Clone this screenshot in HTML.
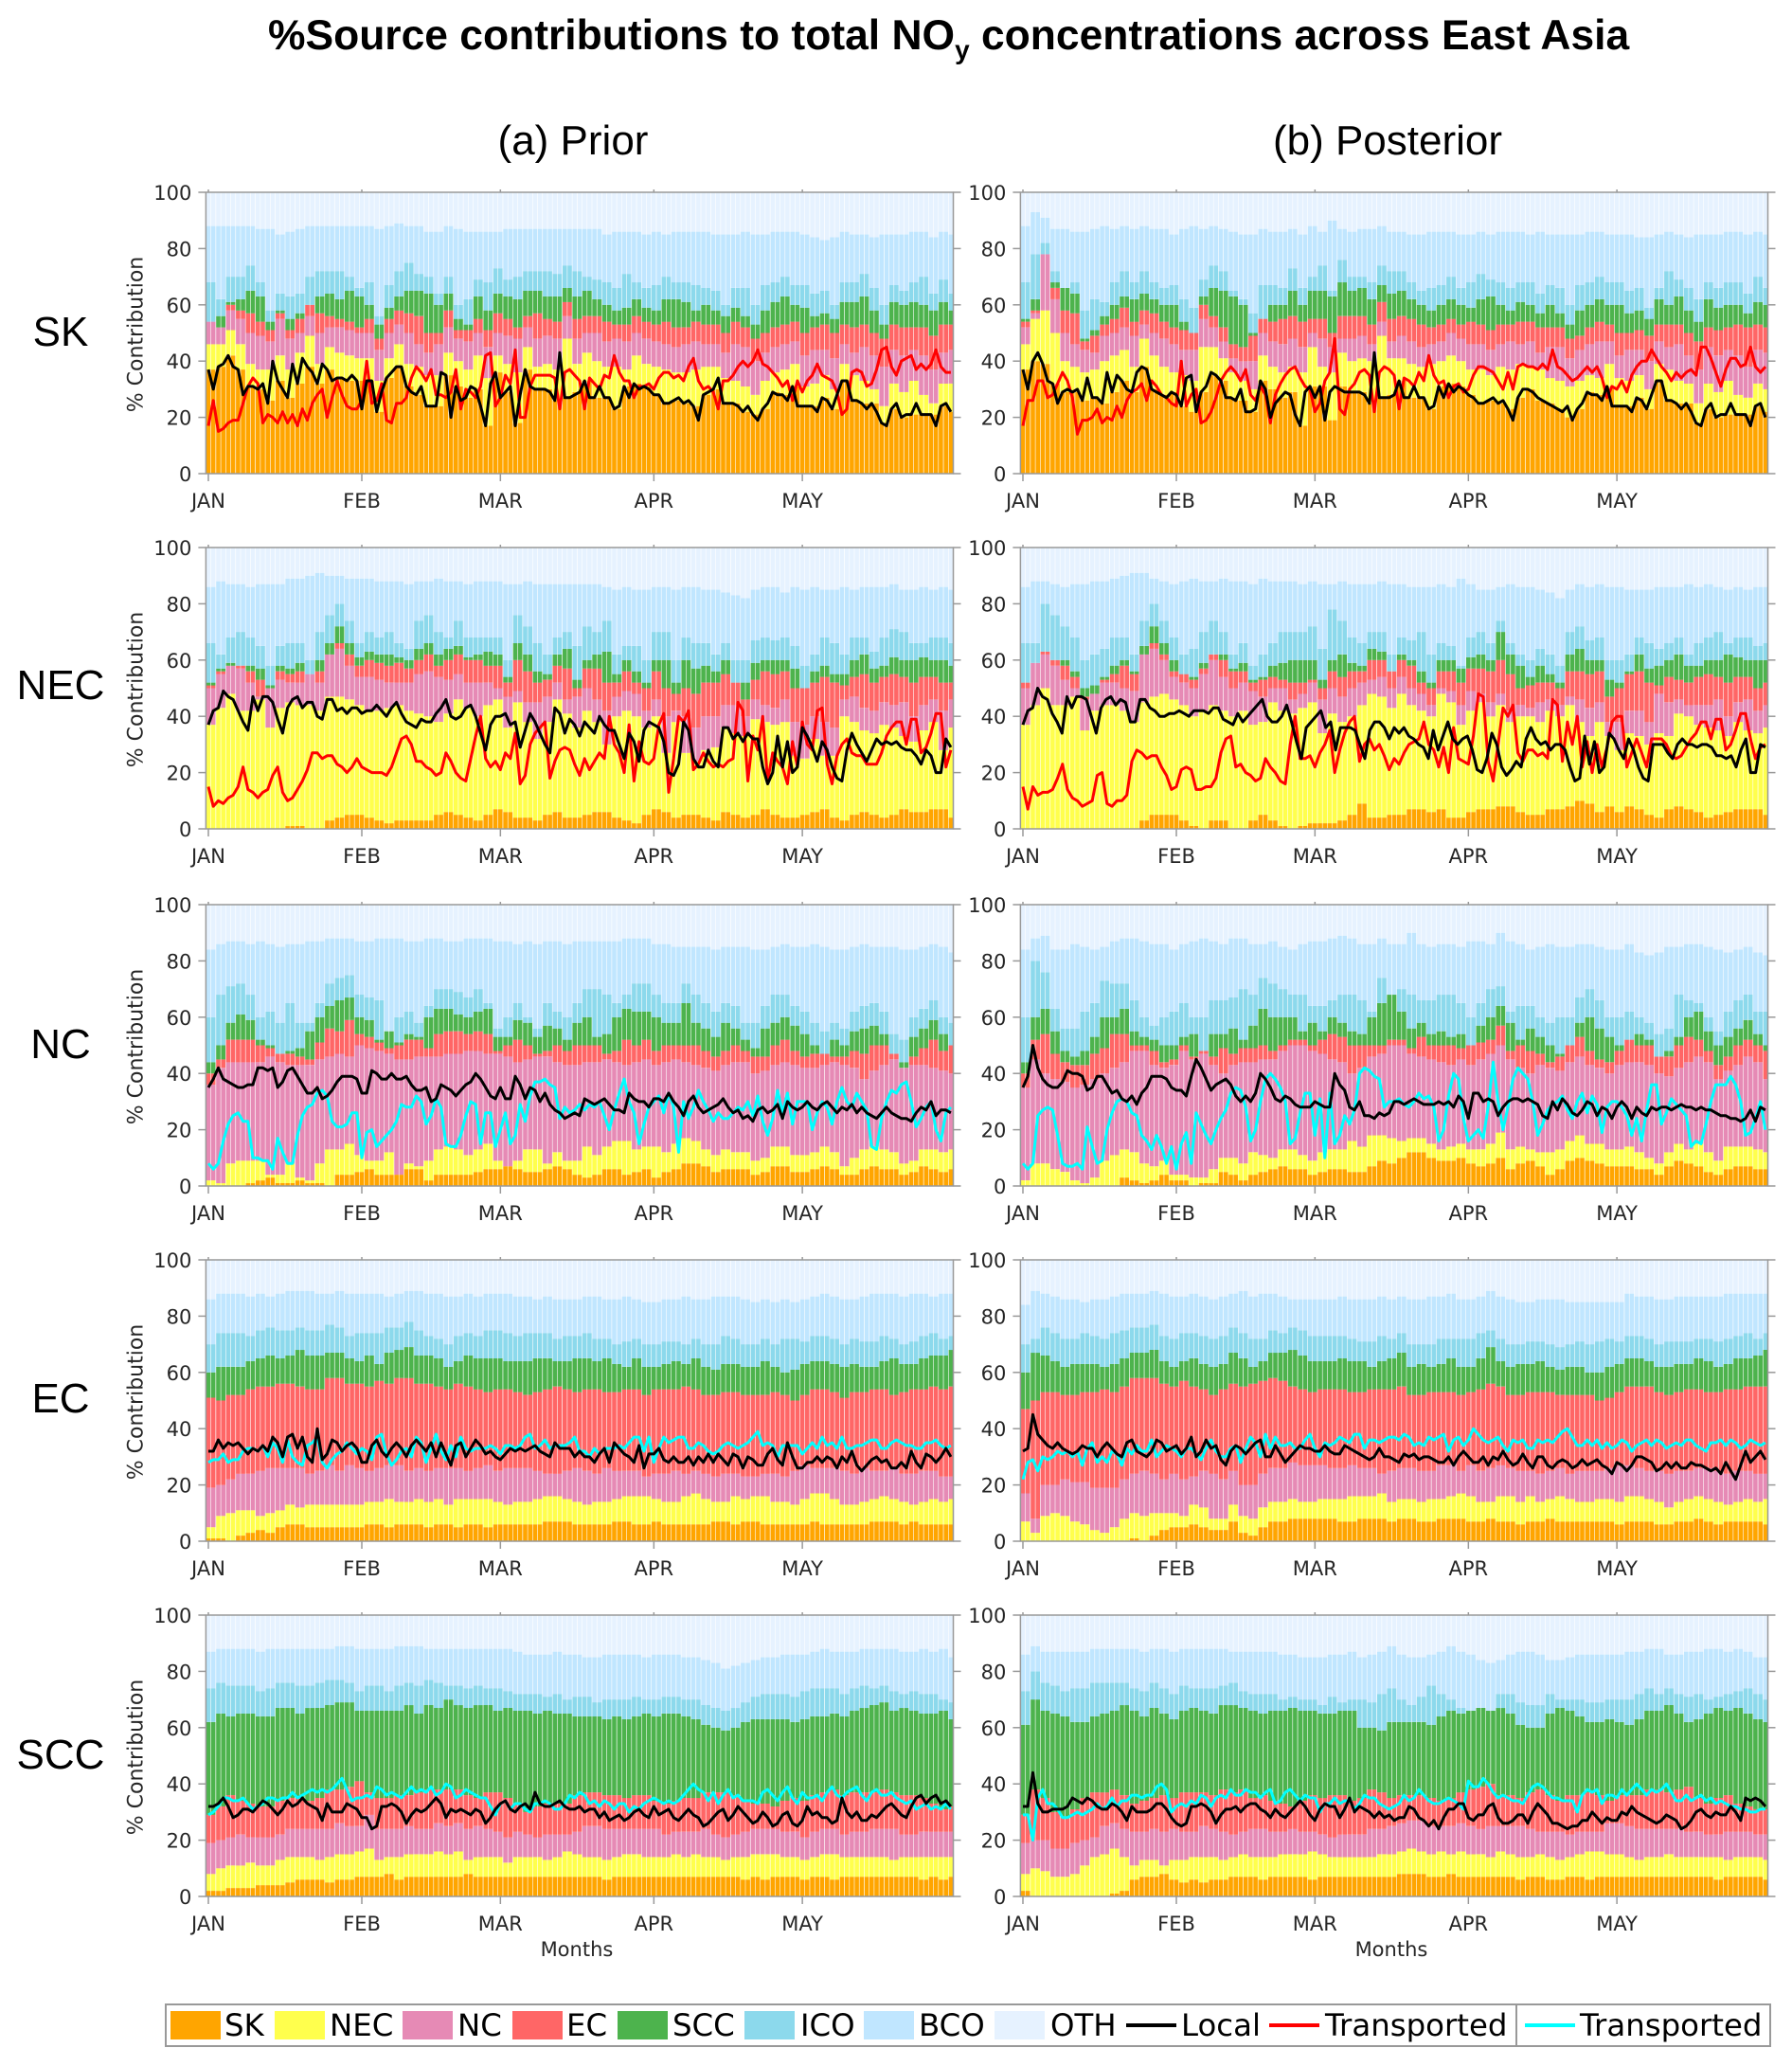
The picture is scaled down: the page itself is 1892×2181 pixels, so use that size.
<!DOCTYPE html>
<html lang="en"><head><meta charset="utf-8"><title>%Source contributions to total NOy concentrations across East Asia</title>
<style>html,body{margin:0;padding:0;background:#fff}svg{display:block}</style></head>
<body>
<svg id="fig" xmlns="http://www.w3.org/2000/svg" width="1892" height="2181" viewBox="0 0 1892 2181">
<text x="283" y="52" font-family="'Liberation Sans',sans-serif" font-weight="700" font-size="44.4" fill="#000">%Source contributions to total NO<tspan dy="10" font-size="28">y</tspan><tspan dy="-10"> concentrations across East Asia</tspan></text>
<g font-family="'Liberation Sans',sans-serif" font-size="44" fill="#000" text-anchor="middle">
<text x="605" y="163">(a) Prior</text>
<text x="1465" y="163">(b) Posterior</text>
<text x="64" y="365">SK</text>
<text x="64" y="738">NEC</text>
<text x="64" y="1117">NC</text>
<text x="64" y="1491">EC</text>
<text x="64" y="1867">SCC</text>
</g>
<g id="panels"></g>
<g font-family="'DejaVu Sans',sans-serif" font-size="32.4" fill="#000">
<rect x="175" y="2116" width="1426" height="44" fill="#fff" stroke="#999" stroke-width="2"/>
<rect x="1601" y="2116" width="268" height="44" fill="#fff" stroke="#999" stroke-width="2"/>
<rect x="180" y="2123" width="53" height="30" fill="#ffa500"/><text x="237" y="2149">SK</text>
<rect x="290" y="2123" width="53" height="30" fill="#ffff4d"/><text x="348" y="2149">NEC</text>
<rect x="425" y="2123" width="53" height="30" fill="#e68ab5"/><text x="483" y="2149">NC</text>
<rect x="541" y="2123" width="53" height="30" fill="#ff6666"/><text x="598" y="2149">EC</text>
<rect x="652" y="2123" width="53" height="30" fill="#4db34d"/><text x="710" y="2149">SCC</text>
<rect x="786" y="2123" width="53" height="30" fill="#8cd9ec"/><text x="845" y="2149">ICO</text>
<rect x="912" y="2123" width="53" height="30" fill="#c0e6ff"/><text x="970" y="2149">BCO</text>
<rect x="1050" y="2123" width="53" height="30" fill="#e6f2ff"/><text x="1109" y="2149">OTH</text>
<line x1="1189" x2="1242" y1="2138" y2="2138" stroke="#000" stroke-width="4"/><text x="1247" y="2149">Local</text>
<line x1="1340" x2="1393" y1="2138" y2="2138" stroke="#f00" stroke-width="4"/><text x="1399" y="2149">Transported</text>
<line x1="1610" x2="1663" y1="2138" y2="2138" stroke="#0ff" stroke-width="4"/><text x="1668" y="2149">Transported</text>
</g>
</svg>
<script>
// Shared axis labels
const monthLabels=['JAN','FEB','MAR','APR','MAY'];
const monthStartDays=[0,31,59,90,120];
const yTickValues=[0,20,40,60,80,100];
const sourceColors=['#ffa500','#ffff4d','#e68ab5','#ff6666','#4db34d','#8cd9ec','#c0e6ff'];
const sourceNames=['sk','nec','nc','ec','scc','ico','bco'];
// Values: cumulative top (%) of each stacked source, read every other day; OTH fills to 100.

// ---------- SK prior ----------
const skPriorSK=[37,38,42,37,31,30,26,33,27,32,38,32,37,34,33,33,33,22,34,38,31,28,24,24,35,31,27,30,17,36,29,18,37,30,30,26,27,29,33,27,27,23,31,32,31,28,25,26,25,24,28,30,25,25,22,21,23,29,28,31,24,24,27,23,33,26,25,25,18,23,20,21,21,21,24,22];
const skPriorNEC=[46,46,51,46,39,37,37,42,37,43,49,39,45,43,42,41,41,33,41,46,39,38,35,35,43,40,37,42,34,42,39,36,45,38,39,37,48,39,43,40,38,38,37,42,39,38,37,36,36,37,38,38,34,33,31,28,33,36,37,39,31,32,35,30,39,35,33,30,24,32,29,33,28,25,32,32];
const skPriorNC=[54,52,58,55,50,49,47,55,48,50,56,50,52,52,51,50,50,44,50,53,50,46,43,46,52,48,47,50,45,50,49,48,52,48,49,48,56,48,50,50,47,48,47,50,48,47,46,45,46,47,46,46,43,46,45,40,43,45,46,47,42,44,44,41,46,43,45,42,38,44,42,44,42,37,43,44];
const skPriorEC=[54,52,60,58,57,54,51,57,51,55,60,57,56,55,54,52,55,48,55,58,57,56,50,50,58,51,51,55,51,57,55,52,56,57,55,54,61,55,56,56,54,53,53,56,54,53,54,52,52,54,53,53,50,54,52,48,50,52,53,54,50,52,53,50,53,52,53,50,48,53,52,52,52,49,53,53];
const skPriorSCC=[54,56,61,62,65,63,54,58,55,57,60,63,64,62,65,63,60,53,59,63,65,65,64,60,64,55,53,63,58,64,63,62,65,65,63,63,66,63,65,62,60,58,59,62,59,58,62,62,61,58,60,58,56,59,56,53,58,61,63,60,59,56,57,55,61,61,63,58,53,61,60,61,60,58,61,58];
const skPriorICO=[68,62,70,70,74,68,58,64,63,64,70,72,72,72,70,66,68,56,67,72,75,71,70,64,70,60,62,69,68,73,69,70,72,72,72,71,74,72,70,69,68,66,71,68,66,67,70,68,68,67,66,65,60,66,66,60,67,68,70,67,67,64,65,60,68,68,71,66,60,67,65,68,70,64,69,64];
const skPriorBCO=[88,88,88,88,88,87,87,85,86,87,88,88,88,88,88,88,88,87,88,89,88,88,86,86,88,87,86,86,86,86,87,87,87,87,87,87,87,87,87,87,85,86,86,86,85,86,85,86,86,86,86,85,85,85,86,85,85,86,86,86,85,84,83,84,86,85,85,84,85,85,85,86,86,84,86,85];
const skPriorLocal=[37,30,38,39,42,38,37,28,31,31,30,32,25,40,33,30,27,39,32,41,38,36,32,39,37,33,34,34,33,35,33,23,33,33,22,29,34,36,38,38,31,29,28,31,24,24,24,36,35,20,31,26,27,31,30,24,17,32,36,27,29,31,17,28,37,31,30,30,30,29,26,43,27,27,28,29,33,27,27,31,27,27,23,24,31,27,32,30,31,30,28,28,25,25,26,27,25,26,24,19,28,29,30,34,25,25,25,24,22,24,21,19,23,25,29,28,28,26,31,24,24,24,24,22,27,26,23,28,33,33,26,26,25,23,25,22,18,17,23,25,20,21,21,25,21,21,21,17,24,25,22];
const skPriorTransported=[17,26,15,16,18,19,19,25,31,34,32,18,21,20,18,22,18,21,17,23,19,25,28,30,20,27,33,28,24,23,23,26,40,25,26,32,19,18,25,25,27,34,38,36,33,37,28,28,27,29,37,23,30,29,27,31,42,43,24,27,35,32,44,20,20,31,35,35,35,35,34,23,36,37,35,33,23,34,32,30,35,34,42,36,33,33,27,31,31,32,30,34,36,36,34,35,33,38,41,33,30,31,29,23,33,33,35,38,40,38,40,44,39,38,36,34,31,33,26,33,29,33,35,39,35,34,33,29,21,23,36,37,36,31,32,37,44,45,38,35,40,41,42,37,39,37,39,44,38,36,36];

// ---------- SK posterior ----------
const skPostSK=[37,40,39,32,29,29,26,27,25,29,33,29,38,30,28,29,24,22,29,35,33,27,26,22,33,30,27,29,17,31,31,19,31,29,29,25,27,28,33,27,27,23,31,32,31,28,25,26,25,23,27,30,26,25,23,20,23,29,28,31,24,24,27,23,33,26,25,25,18,23,20,21,21,21,24,22];
const skPostNEC=[46,55,58,50,40,38,36,37,40,42,44,38,48,42,38,36,35,33,45,45,41,36,33,30,42,38,36,38,36,45,38,36,43,40,41,40,49,41,41,39,38,39,40,42,40,37,37,35,38,37,39,38,37,34,33,31,33,35,34,39,34,33,35,30,39,37,33,32,25,32,29,33,28,27,32,30];
const skPostNC=[52,57,78,62,50,46,44,43,49,50,52,49,53,50,48,46,44,44,55,52,47,41,40,40,50,47,46,48,45,50,48,45,48,48,49,46,54,47,49,47,45,46,47,50,48,46,46,44,46,47,46,47,43,45,45,41,44,46,47,47,42,44,44,40,47,45,46,42,37,45,42,44,42,38,44,43];
const skPostEC=[54,58,78,66,58,57,47,49,53,55,59,54,58,57,54,52,51,50,60,56,52,46,45,49,55,54,55,56,54,55,55,50,56,56,56,53,61,55,56,55,53,52,53,55,53,54,53,51,53,53,54,54,52,52,52,48,49,52,54,53,50,50,51,49,53,53,53,50,47,52,51,52,53,52,53,52];
const skPostSCC=[55,62,78,68,66,64,48,51,56,60,63,62,64,62,60,60,54,50,63,66,65,63,60,50,52,60,60,65,60,65,65,63,68,65,66,62,67,64,65,62,60,58,60,62,60,59,62,63,60,58,61,60,57,60,57,53,58,60,62,60,60,57,58,55,62,60,63,58,54,62,59,60,60,57,61,60];
const skPostICO=[68,78,82,72,62,68,58,62,61,68,72,68,72,68,66,67,62,59,69,74,72,65,62,57,67,67,66,73,66,70,74,65,76,70,70,68,74,72,72,68,65,66,67,70,66,68,71,69,68,66,68,68,64,67,66,60,67,68,70,68,68,65,66,59,66,72,69,66,62,68,66,68,68,64,70,66];
const skPostBCO=[88,93,91,87,87,86,86,87,88,87,88,87,88,87,87,85,87,88,87,88,87,86,85,85,87,86,86,87,85,88,86,90,87,86,87,87,88,86,86,85,85,86,86,86,85,85,86,85,86,86,86,85,86,85,85,85,85,86,86,85,85,85,84,84,85,86,85,84,85,85,85,86,86,85,86,85];
const skPostLocal=[37,30,40,43,39,33,32,25,29,30,29,30,26,34,27,27,25,36,29,35,33,30,29,36,38,37,30,29,28,27,29,28,24,34,35,22,29,31,36,35,33,27,27,26,30,22,22,23,33,30,20,25,27,29,28,21,17,29,31,27,31,19,29,31,30,29,29,29,29,28,25,43,27,27,27,28,33,27,27,31,27,27,23,24,31,27,32,29,31,30,28,27,25,25,26,27,25,26,23,19,27,30,30,29,27,26,25,24,23,22,24,19,23,25,29,28,28,26,31,24,24,24,24,22,27,26,23,28,33,33,26,26,25,23,25,22,18,17,23,25,20,21,21,25,21,21,21,17,24,25,20];
const skPostTransported=[17,26,26,33,33,27,28,32,36,33,27,14,19,19,20,23,18,20,19,24,20,26,29,30,32,26,33,31,28,27,25,24,40,24,28,30,18,19,22,27,33,36,38,36,33,37,28,26,31,28,18,28,32,35,37,38,34,31,30,22,25,33,36,48,23,21,30,32,36,37,35,22,36,38,37,35,23,34,33,31,36,33,42,35,32,33,27,31,32,29,30,35,38,38,37,36,33,30,36,30,38,39,38,38,37,39,37,44,38,37,35,33,34,36,38,36,38,34,27,31,30,33,29,35,38,40,40,44,41,38,36,33,36,34,36,37,35,45,45,41,36,31,37,41,41,38,39,45,38,36,38];

// ---------- NEC prior ----------
const necPriorSK=[0,0,0,0,0,0,0,0,1,1,0,0,3,4,5,5,4,3,2,3,3,3,3,5,6,5,4,3,5,7,6,4,4,3,5,6,4,4,5,6,6,4,3,2,5,7,6,4,5,5,4,3,6,5,4,5,7,5,4,4,5,6,7,4,3,5,6,5,4,5,7,6,6,7,7,4];
const necPriorNEC=[37,43,48,42,42,46,36,43,45,44,44,42,47,47,46,44,42,42,43,44,42,41,40,38,41,46,43,40,44,46,36,45,38,32,38,46,41,36,42,38,30,40,42,40,36,40,27,38,27,24,28,29,36,34,33,39,38,37,38,26,25,32,26,26,40,38,35,34,37,36,33,31,35,38,28,36];
const necPriorNC=[50,55,58,57,52,47,50,53,52,52,55,52,62,64,58,54,54,53,52,52,52,55,56,54,53,55,52,52,52,50,47,49,45,45,47,52,46,47,50,46,42,47,49,48,42,46,40,42,40,36,40,40,44,44,40,46,44,43,46,38,37,40,38,36,46,47,43,42,45,44,45,40,44,46,42,46];
const necPriorEC=[51,56,58,58,56,53,50,56,55,56,52,56,60,66,62,58,60,59,58,59,57,60,62,58,60,62,60,60,58,58,52,60,56,52,53,58,57,50,57,57,52,52,56,52,50,56,50,48,50,48,52,52,55,52,46,53,56,55,56,50,50,52,54,52,51,54,55,52,54,55,54,52,54,54,52,52];
const necPriorSCC=[52,57,59,58,58,57,51,58,57,59,52,60,66,72,66,61,63,62,62,61,60,64,66,62,64,65,61,62,63,62,54,66,62,56,55,62,64,53,60,62,63,55,60,56,52,60,60,52,60,57,58,56,60,52,52,59,60,60,60,57,50,56,58,55,55,60,62,57,58,61,60,60,61,60,60,58];
const necPriorICO=[66,62,68,70,68,65,58,65,66,66,60,70,76,80,74,66,70,68,70,66,64,74,76,70,68,74,68,68,68,68,60,76,72,66,62,68,70,65,72,70,74,62,65,65,60,70,70,60,68,66,66,62,66,60,60,67,68,67,68,65,58,62,68,66,62,68,68,63,68,71,70,66,66,68,68,66];
const necPriorBCO=[86,88,87,87,86,87,87,87,89,89,90,91,90,90,89,89,89,88,88,88,87,88,88,89,88,88,87,88,88,88,87,87,88,87,87,87,87,87,87,87,86,85,86,85,85,86,86,85,86,86,85,85,84,83,82,85,86,86,84,86,85,86,85,85,86,85,86,86,86,87,85,85,86,85,86,85];
const necPriorLocal=[37,42,43,49,47,46,42,38,35,47,42,47,47,45,39,34,43,46,47,43,45,45,40,39,46,46,42,43,41,43,43,41,42,42,44,42,40,43,45,41,38,37,36,39,38,38,41,43,46,40,39,40,43,44,40,34,28,37,40,40,41,37,38,29,35,41,38,34,30,27,43,41,34,39,37,33,38,36,34,40,37,35,35,30,25,34,31,24,35,38,37,36,31,20,19,23,38,35,25,22,22,28,24,22,36,36,32,34,31,34,32,32,22,16,20,33,22,31,20,22,36,33,29,24,31,28,22,18,17,28,34,30,27,24,28,32,30,31,30,31,29,28,28,26,23,28,26,20,20,32,29];
const necPriorTransported=[15,8,10,9,11,12,15,22,14,13,11,13,14,19,22,13,10,11,14,17,21,27,27,25,26,26,23,22,20,22,25,22,21,20,20,20,19,22,27,32,33,30,24,24,22,21,19,20,27,24,20,18,17,25,33,40,25,22,24,21,27,25,34,16,19,30,34,36,38,18,24,28,29,28,23,19,25,21,24,27,25,40,30,27,20,37,17,31,24,23,25,37,41,13,25,40,38,42,21,23,27,24,22,23,22,24,25,45,42,17,33,28,40,17,27,24,22,16,31,22,38,30,28,42,43,23,16,26,30,32,27,26,26,23,23,23,27,33,36,38,38,30,39,39,27,29,34,41,41,22,28];

// ---------- NEC posterior ----------
const necPostSK=[0,0,0,0,0,0,0,0,0,0,0,0,3,5,5,5,3,1,0,3,3,0,0,3,5,3,1,0,1,2,2,2,3,5,9,4,4,5,5,7,7,6,7,4,4,6,7,7,8,8,6,5,5,7,7,8,10,9,6,8,6,8,7,5,4,7,8,7,6,4,5,6,7,7,7,5];
const necPostNEC=[37,44,50,44,44,47,35,42,44,44,42,38,45,47,48,46,44,40,42,44,42,40,42,37,38,45,42,41,43,45,34,41,38,40,44,48,47,43,48,44,42,40,48,45,37,42,45,40,44,38,40,40,38,42,40,44,38,33,38,33,28,34,33,30,34,33,41,40,37,36,35,33,38,35,34,36];
const necPostNC=[50,59,62,58,53,50,46,48,52,52,50,49,62,64,60,54,52,50,55,60,54,50,52,49,47,50,50,46,48,52,46,50,47,50,52,53,54,50,54,50,48,44,50,49,44,49,48,45,48,42,44,43,45,46,44,47,46,43,45,38,38,42,42,38,48,45,46,44,44,44,46,40,45,46,42,44];
const necPostEC=[52,58,63,60,58,54,47,48,53,55,58,55,60,66,62,56,55,53,57,62,60,56,56,52,53,54,53,52,52,53,50,56,54,56,56,60,60,56,60,58,52,50,56,56,52,57,57,56,60,55,50,51,52,52,50,56,56,55,56,47,50,55,56,52,51,54,53,52,54,55,54,52,54,54,50,52];
const necPostSCC=[52,58,63,60,60,56,50,51,54,58,60,56,65,72,66,60,55,54,59,62,62,57,59,53,54,58,59,60,60,60,53,60,62,59,58,64,63,56,62,60,56,52,60,60,57,61,62,60,70,62,58,54,58,55,52,62,64,60,60,53,52,56,62,57,58,60,62,58,58,60,60,62,61,60,60,60];
const necPostICO=[66,66,80,76,72,68,60,62,64,68,68,62,74,80,74,68,62,64,70,74,70,62,66,58,62,66,70,70,70,72,64,78,74,68,66,70,70,62,68,67,70,62,66,65,58,68,70,66,74,66,62,60,64,62,58,70,72,67,68,60,60,62,68,66,64,66,68,62,66,68,70,66,68,68,65,66];
const necPostBCO=[86,88,88,87,86,87,87,88,88,89,90,91,91,89,88,87,88,89,88,88,89,88,88,87,89,88,88,88,87,88,87,87,88,87,87,87,88,87,87,86,86,86,87,86,89,87,85,85,86,87,86,86,85,84,82,85,87,86,87,86,86,85,85,85,86,86,86,87,86,87,86,85,86,85,86,86];
const necPostLocal=[37,42,43,50,47,46,41,38,34,47,43,47,47,46,40,34,43,46,47,44,46,45,38,38,46,46,43,42,40,40,41,41,42,41,40,42,42,42,41,43,43,39,38,37,41,38,40,42,44,46,40,38,38,40,44,38,31,25,36,38,40,42,36,38,28,36,36,36,35,30,25,35,38,38,36,32,36,34,36,33,32,30,29,25,35,28,33,38,32,30,32,33,28,21,20,25,34,30,22,19,21,24,22,32,36,32,30,31,28,30,30,28,22,17,18,33,23,31,20,22,34,32,28,25,32,28,22,18,17,30,30,30,27,25,30,32,30,30,29,30,30,29,26,26,25,26,22,28,32,20,20,30,29];
const necPostTransported=[15,7,15,12,13,13,14,18,23,14,11,10,8,9,10,19,20,9,8,10,10,12,24,28,27,25,26,26,22,19,14,15,21,22,21,14,14,15,15,18,27,32,33,22,23,20,19,17,18,25,22,20,17,16,30,40,25,25,26,22,27,30,35,20,28,34,38,40,24,30,32,28,30,26,21,25,23,27,30,31,32,38,30,28,22,29,20,36,25,24,23,33,48,47,24,17,30,43,40,44,27,24,28,28,26,27,25,46,44,24,38,30,40,22,31,20,30,22,29,38,40,40,22,27,32,27,22,32,32,32,30,26,25,26,29,32,34,38,38,32,39,39,28,30,35,41,41,32,25,29,30];

// ---------- NC prior ----------
const ncPriorSK=[0,0,0,0,1,2,3,1,1,2,1,1,0,4,4,5,6,4,4,4,6,6,2,4,4,4,4,5,6,6,7,6,5,5,6,7,6,4,3,4,6,6,4,5,6,3,5,6,8,8,7,5,6,6,6,4,5,7,7,5,5,6,7,6,4,4,6,7,6,6,4,5,7,6,5,6];
const ncPriorNEC=[2,1,8,9,9,9,4,4,8,3,2,8,13,13,15,11,9,9,12,4,8,7,9,13,14,13,11,13,15,9,6,9,13,13,8,12,9,9,14,11,14,16,16,13,14,14,12,15,17,16,13,11,13,12,12,9,10,14,14,11,11,12,14,12,7,10,13,14,13,12,8,9,13,13,12,13];
const ncPriorNC=[36,42,44,44,44,44,46,44,43,43,43,45,46,47,46,50,49,48,47,45,45,46,46,46,47,47,48,48,47,47,46,44,45,46,46,44,43,43,44,44,45,44,43,44,45,43,44,45,44,43,42,41,43,44,44,40,41,43,44,43,42,42,43,44,43,42,38,41,43,45,42,43,43,42,41,40];
const ncPriorEC=[40,45,52,52,52,50,49,47,47,46,45,51,56,55,59,54,53,51,49,50,52,52,49,54,55,55,54,55,54,48,50,52,50,47,48,50,48,50,50,50,47,48,52,50,52,48,50,50,50,50,48,46,48,50,48,46,46,50,52,48,46,47,47,46,46,48,47,50,50,47,42,46,49,52,48,50];
const ncPriorSCC=[44,50,58,61,59,52,50,47,48,49,55,60,64,66,67,60,59,52,55,51,54,53,60,63,63,61,60,62,63,53,53,59,58,53,57,56,52,58,60,53,54,60,63,62,62,60,58,58,65,58,56,53,58,56,52,49,56,58,60,57,54,50,47,52,50,55,56,57,54,46,44,53,56,59,54,50];
const ncPriorICO=[60,68,71,72,68,60,62,58,65,58,58,65,72,74,75,68,67,66,55,60,62,58,64,70,70,69,67,70,65,56,60,65,60,56,65,62,60,65,70,70,68,65,68,72,72,68,65,65,72,68,65,62,65,64,58,58,64,68,68,64,62,58,55,58,56,62,64,65,62,54,52,60,63,66,60,58];
const ncPriorBCO=[84,86,87,87,86,87,86,85,86,86,87,87,88,88,88,87,87,88,88,88,87,87,88,88,87,87,88,88,88,87,87,86,87,86,87,87,86,87,87,87,87,87,88,88,88,86,86,85,85,85,85,84,85,85,85,84,84,85,86,85,85,86,85,84,84,85,86,85,85,85,84,84,85,86,85,83];
const ncPriorLocal=[35,38,42,38,37,36,35,35,36,36,42,42,41,42,35,37,41,42,39,36,33,33,35,31,32,34,37,39,39,39,38,33,33,41,40,38,38,40,38,38,39,36,34,34,35,30,31,36,35,34,32,34,36,37,40,38,35,32,31,35,31,31,39,36,31,35,34,30,33,29,27,26,24,25,26,25,31,30,29,30,31,29,27,27,26,33,31,30,30,28,31,31,30,33,30,28,25,30,32,28,26,27,28,29,31,28,26,27,24,25,23,27,28,26,27,29,24,30,28,27,28,30,28,27,29,30,28,26,28,27,29,26,28,26,25,24,26,28,26,25,24,24,23,26,28,27,30,25,27,27,26];
const ncPriorTransported=[8,6,8,16,22,25,26,23,23,10,10,9,9,6,17,12,8,8,18,25,28,29,33,34,32,23,21,21,22,26,26,10,19,20,14,16,18,20,23,29,28,28,32,30,22,25,31,28,15,14,14,18,25,30,29,15,26,26,14,20,26,15,18,29,23,32,37,37,38,36,35,24,28,26,27,29,27,29,28,30,25,20,27,33,38,30,26,15,22,28,30,32,26,33,28,12,30,24,28,34,30,27,23,26,24,24,26,28,27,30,25,32,23,18,24,34,26,33,22,30,30,30,20,26,30,28,22,30,35,30,28,33,30,27,14,13,24,30,34,33,36,37,30,21,24,28,30,20,16,26,28];

// ---------- NC posterior ----------
const ncPostSK=[0,0,0,0,0,0,0,0,0,0,3,2,1,2,4,2,2,0,1,1,5,4,2,4,5,6,7,6,6,4,5,6,6,5,5,7,9,8,10,12,12,10,9,9,10,8,7,8,10,6,8,9,7,4,6,9,10,9,8,7,7,7,6,6,4,7,9,8,7,5,4,6,7,7,6,6];
const ncPostNEC=[2,8,8,6,5,2,1,3,9,11,13,12,8,7,9,4,4,3,3,6,10,10,8,12,11,10,13,13,11,9,12,13,13,16,14,18,18,17,16,17,17,15,13,14,15,13,13,15,19,13,14,13,12,12,13,16,18,15,15,13,13,14,12,10,8,12,15,13,15,12,9,14,14,14,13,12];
const ncPostNC=[35,45,40,38,37,35,36,38,40,42,44,48,48,43,42,43,48,45,47,43,40,43,44,44,45,45,48,50,50,48,47,45,44,40,42,46,47,50,50,47,46,45,44,43,45,43,45,47,50,45,42,40,43,42,41,44,46,43,42,40,43,44,44,43,40,39,42,44,46,44,38,41,43,46,44,38];
const ncPostEC=[40,52,54,47,44,43,43,47,49,54,54,50,50,48,44,45,50,46,48,46,49,47,49,49,50,48,50,52,52,50,52,54,53,50,50,50,50,52,52,49,53,50,50,50,49,50,51,52,57,48,50,48,47,44,46,50,53,48,45,44,48,52,50,50,46,46,50,53,52,48,43,46,50,52,50,48];
const ncPostSCC=[44,60,63,55,48,46,48,53,60,60,63,55,53,52,50,50,53,54,48,54,54,56,52,57,63,60,60,60,55,58,55,60,58,55,54,60,65,68,62,56,58,54,55,53,54,50,57,60,64,58,52,56,53,50,47,50,58,60,56,53,50,52,54,52,46,48,53,60,62,55,50,53,56,59,54,50];
const ncPostICO=[60,80,76,63,56,56,62,65,73,72,72,66,60,57,60,62,65,60,60,66,66,67,70,68,74,72,70,68,68,64,64,66,68,68,66,62,74,66,70,68,66,66,68,68,65,60,65,70,71,62,64,64,60,58,60,60,67,70,66,60,60,62,60,58,54,56,68,66,65,60,55,62,66,68,62,62];
const ncPostBCO=[84,88,89,84,84,86,85,84,85,87,88,88,87,86,86,84,86,87,88,87,86,88,88,86,86,87,85,84,86,87,87,88,89,88,86,86,88,86,86,90,86,85,86,86,85,87,87,86,90,87,86,84,85,86,85,85,86,86,85,84,84,86,83,82,83,85,85,86,86,85,84,83,84,85,83,82];
const ncPostLocal=[35,39,50,42,38,36,35,35,37,41,40,40,39,34,35,39,39,36,33,34,31,30,32,29,33,35,39,39,39,38,35,34,34,32,39,45,42,38,34,36,37,38,36,32,30,32,30,33,40,38,35,31,30,32,31,29,28,28,28,30,29,28,28,40,36,34,28,27,30,25,25,24,26,25,26,30,30,29,30,31,30,29,29,29,30,29,30,28,32,30,24,33,33,30,31,30,25,28,30,31,31,30,31,30,29,25,24,30,27,31,29,26,25,27,30,29,25,28,27,24,28,30,28,24,28,26,25,28,27,28,28,27,28,29,28,28,27,28,27,27,26,25,25,24,24,23,24,27,23,28,27];
const ncPostTransported=[8,6,8,25,27,28,27,18,8,7,7,8,6,21,14,8,9,20,26,30,31,30,26,25,18,16,13,18,14,8,14,6,15,19,8,26,22,18,15,20,24,27,33,35,34,28,16,20,30,38,40,38,35,30,15,17,26,33,33,18,31,10,33,15,18,25,22,27,40,42,41,39,38,28,30,30,31,29,28,30,33,31,32,28,16,20,32,40,38,24,16,18,20,17,28,44,30,20,28,38,42,40,38,30,18,22,27,29,30,32,27,24,30,33,26,32,29,19,28,30,30,28,25,18,24,16,27,36,36,22,26,31,29,27,25,14,16,15,22,30,36,36,36,39,36,30,18,19,24,30,20];

// ---------- EC prior ----------
const ecPriorSK=[1,1,0,2,3,4,3,5,6,6,5,5,5,5,5,5,6,6,5,6,6,6,5,6,6,5,6,6,5,6,6,6,6,6,7,7,7,6,6,6,6,7,7,6,6,7,6,6,6,6,6,7,7,6,7,7,6,6,6,6,6,7,6,6,6,6,6,7,7,7,6,7,6,6,6,6];
const ecPriorNEC=[5,9,10,11,11,9,10,11,13,12,13,13,13,13,13,13,14,14,15,14,14,15,14,15,13,15,15,15,15,14,13,14,14,15,16,16,15,14,13,14,14,15,16,16,16,15,14,14,16,17,15,14,14,16,15,16,16,14,14,13,15,17,17,15,13,13,14,15,16,15,14,13,14,15,14,15];
const ecPriorNC=[19,20,22,24,24,25,26,26,26,26,24,25,27,25,27,26,25,26,27,27,25,26,25,26,26,26,25,26,27,25,26,26,26,25,24,24,25,26,25,24,26,25,25,25,23,24,24,25,24,25,24,23,24,24,23,23,24,24,23,25,27,26,26,26,25,24,26,25,25,26,24,24,25,25,23,23];
const ecPriorEC=[51,50,52,52,54,55,55,56,56,55,54,54,58,58,56,56,55,57,56,58,58,56,56,55,54,56,55,54,53,54,54,53,52,53,54,55,54,53,54,54,53,53,54,54,52,54,54,54,55,54,52,52,53,53,52,52,52,53,52,50,52,54,54,53,51,53,53,54,54,52,53,54,54,55,54,55];
const ecPriorSCC=[60,62,62,62,64,65,66,65,66,68,66,66,67,67,65,64,66,63,67,68,69,66,66,65,62,64,66,65,65,65,64,64,64,65,65,64,64,65,65,64,65,63,62,65,62,62,63,64,63,65,62,61,63,63,62,62,64,62,60,61,63,64,64,63,62,63,62,62,64,65,63,63,65,66,66,68];
const ecPriorICO=[70,74,74,74,73,75,76,75,75,76,75,75,77,76,73,74,74,74,76,76,78,75,73,72,70,73,74,73,75,75,74,73,74,74,74,72,73,73,74,72,72,70,71,72,70,70,71,71,70,72,70,70,73,72,70,70,72,70,72,72,71,73,73,72,70,72,71,71,73,72,70,71,73,74,72,73];
const ecPriorBCO=[86,88,88,88,87,88,87,88,89,89,89,88,88,89,88,88,88,88,87,88,89,89,88,88,87,87,88,87,88,88,88,87,87,86,87,86,86,86,87,87,86,86,87,86,85,85,86,86,87,86,86,87,87,87,86,85,86,85,86,85,86,87,88,87,86,86,87,88,88,88,87,88,88,87,88,88];
const ecPriorLocal=[32,32,36,33,35,34,35,33,31,33,32,34,32,37,35,30,37,38,33,37,30,28,40,29,31,36,35,32,34,35,33,28,28,34,36,32,30,33,35,33,30,34,36,34,32,35,30,35,31,27,34,35,30,33,36,34,31,32,30,29,31,33,32,33,32,33,34,32,31,30,35,33,33,33,30,32,30,30,28,31,33,28,35,33,31,30,28,34,26,31,31,33,29,28,30,28,28,30,27,30,28,31,28,31,29,27,31,30,26,30,29,27,27,31,33,29,27,35,30,26,26,28,28,30,28,30,29,26,30,28,32,27,25,27,29,30,28,29,26,26,28,26,32,28,26,31,30,28,30,33,30];
const ecPriorTransported=[28,29,29,31,28,29,29,32,33,33,32,34,30,35,33,28,36,30,28,27,34,35,37,28,26,29,31,32,35,33,31,33,32,29,37,38,31,27,29,32,33,30,37,35,28,33,38,32,29,34,30,37,33,32,33,33,33,34,33,31,34,34,33,34,37,38,33,34,36,33,34,34,34,35,37,32,32,30,33,31,33,33,33,34,33,35,37,37,32,37,28,33,37,35,36,37,37,33,33,35,34,32,31,32,34,35,34,33,34,35,37,39,34,35,34,30,34,34,34,34,31,33,35,33,37,34,35,33,37,33,33,34,34,35,36,36,33,33,35,36,35,34,34,33,33,35,35,36,34,33,34];

// ---------- EC posterior ----------
const ecPostSK=[0,0,0,0,0,0,0,0,0,0,0,1,0,2,4,5,5,6,5,4,4,7,3,2,5,7,7,8,8,8,8,8,7,7,8,8,8,7,8,8,7,7,8,8,8,7,7,8,7,7,6,7,7,8,7,7,7,7,7,7,6,7,7,7,6,6,7,7,8,7,6,7,7,7,7,6];
const ecPostNEC=[7,3,9,10,9,7,6,4,3,5,8,10,9,10,10,10,9,13,12,8,8,13,9,8,12,14,14,15,14,14,15,15,15,16,16,16,17,14,15,15,14,15,15,16,17,16,14,14,16,16,14,16,14,15,16,15,14,14,15,15,14,16,16,15,14,12,14,15,16,15,14,13,14,15,14,15];
const ecPostNC=[17,8,20,20,22,21,21,19,19,19,22,24,25,24,22,24,22,23,25,24,22,25,20,20,24,26,26,28,27,27,27,26,26,27,26,26,24,25,26,26,25,25,27,27,25,27,25,26,27,26,25,25,24,25,26,24,25,25,25,26,27,27,26,25,25,24,25,25,26,26,25,24,25,25,24,24];
const ecPostEC=[47,50,53,53,52,52,53,53,54,53,55,58,58,58,56,55,57,55,54,52,54,56,55,56,57,58,57,55,54,53,54,54,54,53,53,54,54,54,55,52,52,53,53,53,52,53,54,56,55,52,52,53,53,53,52,52,52,52,50,51,53,55,55,55,53,52,53,54,54,53,53,54,54,55,55,55];
const ecPostSCC=[60,67,66,64,62,63,63,63,62,63,65,67,67,68,64,62,64,65,63,62,63,67,65,62,64,67,67,68,66,64,64,64,65,64,64,62,64,65,67,62,63,62,63,65,62,62,65,69,64,62,63,63,64,62,61,62,62,60,60,62,63,65,65,64,62,62,63,63,65,64,62,63,65,65,66,68];
const ecPostICO=[70,72,76,74,72,72,74,73,72,74,75,76,76,77,73,72,74,74,73,72,73,76,74,72,72,75,74,76,75,73,73,73,73,72,71,71,73,72,74,70,70,70,72,72,72,72,74,75,72,70,70,71,71,70,69,70,71,70,71,72,71,73,73,72,70,71,71,71,72,72,71,72,73,74,72,74];
const ecPostBCO=[84,89,88,87,86,86,85,86,86,87,88,88,88,89,88,87,87,88,87,86,87,88,89,87,88,88,87,86,86,86,86,86,87,86,86,86,87,86,87,86,86,87,87,88,86,86,87,89,87,86,85,85,86,86,86,85,85,85,85,85,85,88,87,87,86,86,87,87,87,87,87,88,88,88,88,88];
const ecPostLocal=[32,33,45,38,36,34,33,35,33,32,31,32,34,33,33,30,33,35,33,31,30,35,36,32,31,30,32,36,35,32,33,34,31,33,37,30,32,36,33,34,29,27,32,34,33,31,33,35,36,30,30,34,31,28,30,32,34,33,33,32,32,34,32,31,31,34,33,32,31,30,29,30,33,30,30,29,28,31,30,31,29,30,30,29,28,28,30,27,30,32,30,28,28,30,27,30,29,32,29,27,28,31,28,26,30,30,27,26,28,29,28,26,27,29,27,28,29,27,26,24,28,27,25,27,30,30,29,28,25,26,28,26,28,26,26,28,27,27,26,25,26,24,28,25,22,27,32,28,30,32,29];
const ecPostTransported=[22,28,29,25,30,29,30,32,31,32,30,32,27,33,35,28,30,28,32,31,27,33,31,34,32,32,36,30,32,34,33,32,30,33,33,31,29,33,36,32,30,30,33,34,28,33,37,35,30,38,33,37,34,34,35,33,33,36,38,33,30,35,34,35,37,36,35,38,38,33,36,36,35,36,37,37,36,38,37,34,35,34,37,36,37,38,32,36,37,34,36,40,38,36,35,36,37,34,32,36,35,36,33,33,36,35,36,35,37,39,40,37,34,34,36,34,36,33,35,33,34,36,35,32,34,35,36,34,36,35,33,34,35,34,36,36,34,33,32,35,35,36,34,36,35,33,34,36,35,34,35];

// ---------- SCC prior ----------
const sccPriorSK=[2,2,3,3,3,4,4,4,5,6,6,6,5,6,6,7,7,7,8,6,7,7,7,7,7,7,8,7,7,7,7,7,7,7,7,7,7,7,7,7,6,7,7,7,7,7,7,7,7,7,7,7,7,7,6,7,6,7,7,7,6,7,7,6,7,7,7,7,7,7,7,7,6,7,6,7];
const sccPriorNEC=[8,10,11,11,12,11,11,13,14,14,14,13,14,15,15,16,17,13,14,14,15,15,15,16,15,16,13,14,14,14,12,14,14,14,13,14,16,15,14,14,13,14,15,15,14,14,14,15,14,15,14,14,13,14,14,15,15,15,14,14,13,14,15,15,14,14,14,14,14,13,14,14,14,14,14,14];
const sccPriorNC=[19,20,21,22,21,21,21,22,24,24,24,24,24,26,25,25,29,24,24,24,25,24,24,26,25,26,24,25,24,23,21,23,22,21,22,22,22,23,25,25,24,24,24,24,24,24,22,23,23,23,24,22,21,22,23,24,24,24,23,23,21,23,24,24,22,23,23,24,24,24,22,22,23,23,23,23];
const sccPriorEC=[29,32,36,34,33,32,32,34,35,35,34,35,38,38,39,41,37,35,35,36,36,37,38,38,38,38,36,35,37,37,35,33,30,32,33,33,33,36,37,37,36,36,35,36,36,34,33,34,35,35,37,37,37,36,34,33,33,32,34,35,34,36,37,38,36,37,37,37,38,37,36,36,35,33,31,32];
const sccPriorSCC=[62,65,64,65,65,64,64,67,67,65,67,67,68,69,69,66,66,66,66,66,68,65,68,67,70,68,67,68,68,66,67,66,66,65,66,65,65,64,64,64,63,64,63,64,65,64,65,65,64,63,61,60,59,60,62,63,63,63,63,62,63,64,64,65,64,66,67,68,69,66,67,66,65,65,66,63];
const sccPriorICO=[74,76,75,75,75,73,74,76,76,75,75,76,77,77,76,73,75,75,73,75,76,75,77,76,75,75,74,75,74,74,73,72,72,72,71,72,70,71,71,69,70,70,70,71,70,70,71,71,70,70,68,67,66,67,69,71,72,72,72,71,73,74,74,74,72,74,75,74,75,73,72,73,72,72,70,69];
const sccPriorBCO=[87,88,88,88,88,87,88,88,88,88,88,88,88,89,89,88,88,88,88,89,89,89,88,88,88,88,88,88,88,88,88,87,86,86,86,87,86,86,85,85,86,86,86,86,85,86,86,86,85,85,84,83,81,82,83,84,85,85,86,86,86,87,88,87,87,87,88,88,88,88,87,87,88,87,88,85];
const sccPriorLocal=[32,32,33,35,32,28,29,31,31,30,32,34,33,31,29,31,34,32,33,35,33,32,31,27,33,30,30,30,33,32,31,28,28,24,25,32,32,33,32,30,26,29,31,30,31,33,35,33,28,31,30,31,30,29,31,30,26,28,31,33,34,31,30,32,33,31,37,33,32,32,33,34,32,31,31,32,30,31,31,28,30,27,28,29,27,28,30,31,29,28,32,29,30,31,28,27,29,31,29,28,25,26,28,30,31,27,29,32,30,28,26,27,30,28,25,26,29,30,26,25,27,32,29,30,28,28,26,27,35,30,28,30,27,27,29,28,30,32,33,31,29,28,32,35,36,33,35,36,33,34,32];
const sccPriorTransported=[29,30,32,35,35,34,34,35,33,31,32,33,35,35,34,35,35,37,35,36,37,38,37,38,37,38,40,42,38,34,35,35,36,35,39,38,36,37,36,35,37,39,37,38,37,39,36,37,40,39,35,36,38,37,36,35,35,32,29,33,34,31,33,33,31,30,33,33,34,33,31,31,33,36,35,37,36,33,34,32,34,33,31,33,33,30,32,31,33,34,35,34,33,34,33,34,36,38,40,38,37,34,37,33,36,38,35,36,34,34,34,33,37,38,36,34,37,39,35,33,37,35,35,36,34,37,39,36,35,37,38,39,36,34,37,38,36,36,37,35,34,33,34,31,32,33,31,32,31,33,31];

// ---------- SCC posterior ----------
const sccPostSK=[2,0,0,0,0,0,0,0,0,1,2,6,7,7,8,6,5,6,5,6,6,7,7,7,6,7,7,7,7,6,7,7,7,7,7,7,7,7,8,8,8,7,7,8,7,7,7,7,7,7,6,7,7,6,6,7,7,6,7,7,7,7,7,7,7,7,7,7,7,7,6,7,7,7,7,6];
const sccPostNEC=[8,10,9,7,7,8,11,14,15,17,14,11,13,13,11,13,13,14,14,14,13,14,15,14,14,14,15,15,15,16,15,14,14,14,14,14,15,15,16,17,16,15,16,15,16,15,15,14,16,15,14,14,15,14,13,14,15,16,16,15,15,14,13,14,14,15,14,14,14,14,14,13,14,14,14,13];
const sccPostNC=[19,20,20,17,17,19,20,21,25,26,24,23,23,24,23,24,23,23,25,24,23,22,23,24,24,23,23,24,23,23,22,21,22,22,22,24,24,25,26,27,27,25,25,25,26,25,24,25,25,25,25,24,23,23,23,22,23,23,23,26,26,25,24,24,24,24,24,23,23,22,22,23,23,23,22,22];
const sccPostEC=[29,38,35,30,28,31,35,37,37,38,36,33,34,35,36,35,37,37,37,36,38,37,38,35,36,34,33,32,34,36,35,36,36,34,35,38,37,35,36,36,36,35,34,35,37,38,39,40,36,36,35,37,38,36,34,36,36,37,36,34,36,36,36,38,38,37,38,39,35,33,35,36,33,32,31,31];
const sccPostSCC=[61,70,66,65,64,62,62,64,65,66,68,66,64,67,65,63,66,67,66,65,68,68,67,66,65,66,66,67,66,66,65,65,66,66,60,60,59,62,62,62,62,61,64,66,65,66,67,66,67,65,61,60,60,65,67,66,64,62,62,63,62,61,63,66,66,68,65,62,63,65,67,66,67,65,63,62];
const sccPostICO=[73,80,76,75,73,74,74,76,76,76,76,74,73,76,74,72,75,74,74,74,75,76,73,72,72,72,70,71,70,70,68,71,69,70,70,69,72,74,70,68,71,75,72,70,67,66,66,66,72,72,69,68,68,72,70,70,70,69,69,70,70,70,72,74,72,74,72,71,72,70,71,72,73,74,72,70];
const sccPostBCO=[86,89,87,87,87,87,87,88,88,88,88,88,87,88,88,87,88,88,88,88,88,87,87,87,87,87,86,86,85,85,85,86,86,87,85,86,87,89,86,85,85,86,87,89,87,86,84,83,84,86,87,87,86,84,84,85,86,86,86,86,86,87,87,88,88,86,86,87,87,88,88,87,88,87,85,85];
const sccPostLocal=[32,32,44,33,30,30,31,31,31,32,35,34,33,35,34,32,31,31,33,32,30,27,32,30,30,30,31,33,33,31,28,26,25,26,32,32,33,32,30,26,29,31,31,32,30,32,33,33,31,30,28,31,29,28,30,32,34,32,29,27,31,33,32,32,28,31,35,30,32,31,30,28,30,28,29,27,28,28,32,31,28,27,25,27,24,28,31,31,33,33,28,27,29,29,32,33,28,26,26,27,29,29,26,30,33,31,29,26,26,25,24,25,25,27,27,30,28,26,28,27,27,30,29,32,30,29,28,27,26,27,29,28,27,24,25,27,30,31,29,28,30,29,29,32,30,27,35,34,35,34,32];
const sccPostTransported=[29,29,20,35,38,33,33,31,28,28,29,30,29,30,31,33,31,32,35,32,34,34,36,36,35,36,36,39,40,38,30,32,33,32,34,33,36,35,32,35,36,35,38,36,36,38,37,37,35,37,38,33,34,37,38,36,34,36,35,35,30,33,33,35,33,34,34,31,33,36,35,35,33,32,31,32,33,36,34,35,38,36,34,33,33,34,35,34,33,31,41,39,39,42,40,37,35,36,35,34,34,33,36,39,40,39,37,35,35,34,34,34,30,36,38,37,38,33,36,36,35,38,36,38,40,38,36,38,37,38,40,37,34,34,36,34,35,36,34,35,33,34,33,32,32,31,31,30,30,31,31];

const panelList=[
 {id:'sk-prior',row:0,col:0,tops:[skPriorSK,skPriorNEC,skPriorNC,skPriorEC,skPriorSCC,skPriorICO,skPriorBCO],local:skPriorLocal,transported:skPriorTransported,color:'#f00'},
 {id:'sk-posterior',row:0,col:1,tops:[skPostSK,skPostNEC,skPostNC,skPostEC,skPostSCC,skPostICO,skPostBCO],local:skPostLocal,transported:skPostTransported,color:'#f00'},
 {id:'nec-prior',row:1,col:0,tops:[necPriorSK,necPriorNEC,necPriorNC,necPriorEC,necPriorSCC,necPriorICO,necPriorBCO],local:necPriorLocal,transported:necPriorTransported,color:'#f00'},
 {id:'nec-posterior',row:1,col:1,tops:[necPostSK,necPostNEC,necPostNC,necPostEC,necPostSCC,necPostICO,necPostBCO],local:necPostLocal,transported:necPostTransported,color:'#f00'},
 {id:'nc-prior',row:2,col:0,tops:[ncPriorSK,ncPriorNEC,ncPriorNC,ncPriorEC,ncPriorSCC,ncPriorICO,ncPriorBCO],local:ncPriorLocal,transported:ncPriorTransported,color:'#0ff'},
 {id:'nc-posterior',row:2,col:1,tops:[ncPostSK,ncPostNEC,ncPostNC,ncPostEC,ncPostSCC,ncPostICO,ncPostBCO],local:ncPostLocal,transported:ncPostTransported,color:'#0ff'},
 {id:'ec-prior',row:3,col:0,tops:[ecPriorSK,ecPriorNEC,ecPriorNC,ecPriorEC,ecPriorSCC,ecPriorICO,ecPriorBCO],local:ecPriorLocal,transported:ecPriorTransported,color:'#0ff'},
 {id:'ec-posterior',row:3,col:1,tops:[ecPostSK,ecPostNEC,ecPostNC,ecPostEC,ecPostSCC,ecPostICO,ecPostBCO],local:ecPostLocal,transported:ecPostTransported,color:'#0ff'},
 {id:'scc-prior',row:4,col:0,tops:[sccPriorSK,sccPriorNEC,sccPriorNC,sccPriorEC,sccPriorSCC,sccPriorICO,sccPriorBCO],local:sccPriorLocal,transported:sccPriorTransported,color:'#0ff'},
 {id:'scc-posterior',row:4,col:1,tops:[sccPostSK,sccPostNEC,sccPostNC,sccPostEC,sccPostSCC,sccPostICO,sccPostBCO],local:sccPostLocal,transported:sccPostTransported,color:'#0ff'}
];

const NS='http://www.w3.org/2000/svg';
const DAYS=151, DAY_PX=5.226, PLOT_H=297, Y_PX=PLOT_H/100;
const colOrigin=c=>c===0?220:1080;
const rowTop=r=>[203,578,955,1330,1705][r];
const xScale=(col,day)=>colOrigin(col)+day*DAY_PX;
const yScale=(row,v)=>rowTop(row)+PLOT_H-v*Y_PX;
const root=document.getElementById('panels');
function mk(tag,attrs,parent){const el=document.createElementNS(NS,tag);for(const k in attrs)el.setAttribute(k,attrs[k]);parent.appendChild(el);return el;}
const linePath=(p,series)=>series.map((v,i)=>(i?'L':'M')+xScale(p.col,i*(DAYS-1)/(series.length-1)).toFixed(1)+' '+yScale(p.row,v).toFixed(1)).join('');

panelList.forEach(p=>{
  const g=mk('g',{},root);
  
  
  const left=xScale(p.col,-0.5), right=xScale(p.col,150.5), top=rowTop(p.row), bot=top+PLOT_H;
  for(let d=0;d<DAYS;d++){
    let prev=0;
    for(let s=0;s<=7;s++){
      const series=p.tops[s];
      const val=s===7?100:Math.max(prev,series[Math.min(series.length-1,Math.floor(d*series.length/DAYS))]);
      const fill=s===7?'#e6f2ff':sourceColors[s];
      const r=mk('rect',{x:(xScale(p.col,d)-2.3).toFixed(1),y:yScale(p.row,val).toFixed(1),width:4.6,height:((val-prev)*Y_PX).toFixed(1),fill:fill},g);
      
      
      prev=val;
    }
  }
  const frame=mk('rect',{x:left,y:top,width:right-left,height:PLOT_H,fill:'none',stroke:'#999','stroke-width':1.5},g);
  
  
  yTickValues.forEach(v=>{
    const y=yScale(p.row,v);
    mk('line',{x1:left-8,x2:left,y1:y,y2:y,stroke:'#999','stroke-width':1.5},g);
    mk('line',{x1:right,x2:right+8,y1:y,y2:y,stroke:'#999','stroke-width':1.5},g);
    const t=mk('text',{x:left-15,y:y+8,'text-anchor':'end','font-family':"'DejaVu Sans',sans-serif",'font-size':21,fill:'#262626'},g);
    t.textContent=v;
    
    
  });
  monthLabels.forEach((m,i)=>{
    const x=xScale(p.col,monthStartDays[i]);
    mk('line',{x1:x,x2:x,y1:bot,y2:bot+8,stroke:'#999','stroke-width':1.5},g);
    mk('line',{x1:x,x2:x,y1:top-3,y2:top,stroke:'#999','stroke-width':1.5},g);
    const t=mk('text',{x:x,y:bot+36,'text-anchor':'middle','font-family':"'DejaVu Sans',sans-serif",'font-size':21,fill:'#262626'},g);
    t.textContent=m;
    
    
  });
  if(p.col===0){
    const yl=mk('text',{transform:'translate('+(left-67)+','+(top+150)+') rotate(-90)','text-anchor':'middle','font-family':"'DejaVu Sans',sans-serif",'font-size':22,fill:'#262626'},g);
    yl.textContent='% Contribution';
    
    
  }
  if(p.row===4){
    const xl=mk('text',{x:(left+right)/2-3,y:bot+63,'text-anchor':'middle','font-family':"'DejaVu Sans',sans-serif",'font-size':21,fill:'#262626'},g);
    xl.textContent='Months';
    
    
  }
  const lt=mk('path',{d:linePath(p,p.transported),fill:'none',stroke:p.color,'stroke-width':3,'stroke-linejoin':'round'},g);
  
  
  const ll=mk('path',{d:linePath(p,p.local),fill:'none',stroke:'#000','stroke-width':3,'stroke-linejoin':'round'},g);
  
  
});
</script>
</body></html>
